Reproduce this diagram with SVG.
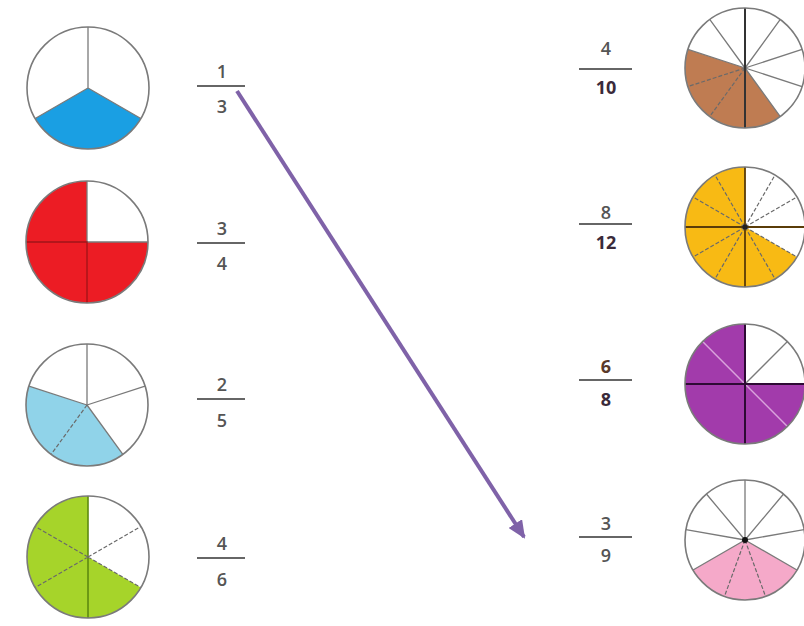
<svg xmlns="http://www.w3.org/2000/svg" width="804" height="626" viewBox="0 0 804 626">
<style>
.rim{fill:none;stroke:#7a7a7a;stroke-width:1.6}
.sp{stroke:#7a7a7a;stroke-width:1.3;fill:none}
.dsh{stroke:#6a6a6a;stroke-width:1.2;stroke-dasharray:4 2;fill:none}
.num{font-family:"Open Sans","Noto Sans",sans-serif;font-size:18px;font-weight:600;fill:#555;text-anchor:middle}
.bold{font-weight:bold;fill:#3a2a3a}
.bar{stroke:#666;stroke-width:1.8}
</style>
<defs>
<marker id="ah" markerUnits="userSpaceOnUse" markerWidth="18" markerHeight="16" refX="16" refY="8" orient="auto">
<path d="M0,0 L18,8 L0,16 Z" fill="#7f62a8"/>
</marker>
</defs>
<rect width="804" height="626" fill="#fff"/>

<g id="c-1-3">
<path d="M88,88 L140.83,118.5 A61,61 0 0,1 35.17,118.5 Z" fill="#1a9fe3"/>
<path class="sp" d="M88,88 L88,27 M88,88 L140.83,118.5 M88,88 L35.17,118.5"/>
<circle class="rim" cx="88" cy="88" r="61"/>
</g>

<g id="c-3-4">
<path d="M87,242 L148,242 A61,61 0 1,1 87,181 Z" fill="#ec1c24"/>
<path class="sp" d="M87,181 L87,242 L148,242"/>
<path d="M26,242 L87,242 L87,303" stroke="#a01418" stroke-width="1.3" fill="none"/>
<circle class="rim" cx="87" cy="242" r="61"/>
</g>

<g id="c-2-5">
<path d="M87,405 L122.85,454.35 A61,61 0 0,1 28.98,386.15 Z" fill="#90d3e9"/>
<path class="sp" d="M87,405 L87,344 M87,405 L145.02,386.15 M87,405 L122.85,454.35 M87,405 L28.98,386.15"/>
<path class="dsh" d="M87,405 L51.15,454.35"/>
<circle class="rim" cx="87" cy="405" r="61"/>
</g>

<g id="c-4-6">
<path d="M88,557 L140.83,587.5 A61,61 0 1,1 88,496 Z" fill="#a6d42a"/>
<path d="M88,496 L88,618" stroke="#5e8a10" stroke-width="1.6"/>
<path class="dsh" d="M88,557 L140.83,526.5 M88,557 L140.83,587.5 M88,557 L35.17,587.5 M88,557 L35.17,526.5"/>
<circle class="rim" cx="88" cy="557" r="61"/>
</g>

<g id="c-4-10">
<path d="M745,68 L780.27,116.54 A60,60 0 0,1 687.93,49.46 Z" fill="#bf7c52"/>
<path class="sp" d="M745,68 L780.27,19.46 M745,68 L802.07,49.46 M745,68 L802.07,86.54 M745,68 L780.27,116.54 M745,68 L687.93,49.46 M745,68 L709.73,19.46"/>
<path class="dsh" d="M745,68 L709.73,116.54 M745,68 L687.93,86.54"/>
<path d="M745,8 L745,128" stroke="#333" stroke-width="2"/>
<circle class="rim" cx="745" cy="68" r="60"/>
</g>

<g id="c-8-12">
<path d="M745,227 L796.96,257 A60,60 0 1,1 745,167 Z" fill="#f8ba14"/>
<path class="dsh" d="M745,227 L775,175.04 M745,227 L796.96,197 M745,227 L796.96,257 M745,227 L775,278.96 M745,227 L715,278.96 M745,227 L693.04,257 M745,227 L693.04,197 M745,227 L715,175.04"/>
<path d="M745,167 L745,287 M685,227 L805,227" stroke="#5a3c08" stroke-width="1.8"/>
<circle cx="745" cy="227" r="2.5" fill="#222"/>
<circle class="rim" cx="745" cy="227" r="60"/>
</g>

<g id="c-6-8">
<path d="M745,384 L805,384 A60,60 0 1,1 745,324 Z" fill="#a23bab"/>
<path class="sp" d="M745,384 L787.43,341.57"/>
<path d="M702.57,341.57 L787.43,426.43" stroke="#d9a3dc" stroke-width="1.5"/>
<path d="M745,324 L745,444 M685,384 L805,384" stroke="#2e0a34" stroke-width="2"/>
<circle class="rim" cx="745" cy="384" r="60"/>
</g>

<g id="c-3-9">
<path d="M745,540 L796.96,570 A60,60 0 0,1 693.04,570 Z" fill="#f5a9c9"/>
<path class="sp" d="M745,540 L745,480 M745,540 L783.57,494.04 M745,540 L804.09,529.58 M745,540 L796.96,570 M745,540 L693.04,570 M745,540 L685.91,529.58 M745,540 L706.43,494.04"/>
<path class="dsh" d="M745,540 L765.52,596.38 M745,540 L724.48,596.38" stroke="#444"/>
<circle cx="745" cy="540" r="3" fill="#111"/>
<circle class="rim" cx="745" cy="540" r="60"/>
</g>

<g id="f-1-3"><text class="num" x="222" y="78">1</text><line class="bar" x1="197" y1="86" x2="245" y2="86"/><text class="num" x="222" y="113">3</text></g>
<g id="f-3-4"><text class="num" x="222" y="235">3</text><line class="bar" x1="197" y1="243" x2="245" y2="243"/><text class="num" x="222" y="270">4</text></g>
<g id="f-2-5"><text class="num" x="222" y="391">2</text><line class="bar" x1="197" y1="399" x2="245" y2="399"/><text class="num" x="222" y="427">5</text></g>
<g id="f-4-6"><text class="num" x="222" y="550">4</text><line class="bar" x1="197" y1="558" x2="245" y2="558"/><text class="num" x="222" y="586">6</text></g>

<g id="f-4-10"><text class="num" x="606" y="55">4</text><line class="bar" x1="579" y1="69" x2="632" y2="69"/><text class="num bold" x="606" y="94">10</text></g>
<g id="f-8-12"><text class="num" x="606" y="219">8</text><line class="bar" x1="579" y1="224" x2="632" y2="224"/><text class="num bold" x="606" y="249">12</text></g>
<g id="f-6-8"><text class="num bold" x="606" y="373" style="fill:#5a3a2a">6</text><line class="bar" x1="579" y1="380" x2="632" y2="380"/><text class="num bold" x="606" y="406">8</text></g>
<g id="f-3-9"><text class="num" x="606" y="530">3</text><line class="bar" x1="579" y1="537" x2="632" y2="537"/><text class="num" x="606" y="562">9</text></g>

<g id="connectors">
<line x1="237" y1="91" x2="524" y2="537" stroke="#7f62a8" stroke-width="4" marker-end="url(#ah)"/>
</g>
</svg>
